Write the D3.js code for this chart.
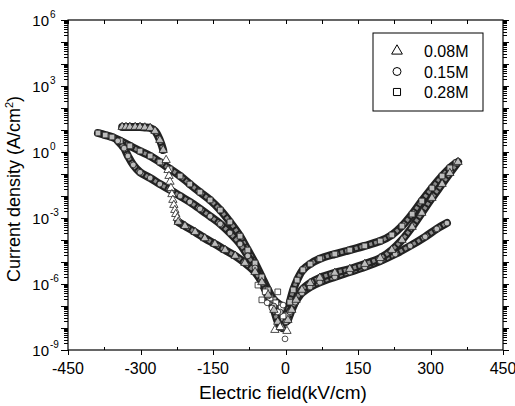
<!DOCTYPE html>
<html><head><meta charset="utf-8">
<script src="https://cdn.jsdelivr.net/npm/d3@7"></script>
<style>body{margin:0;background:#fff}</style>
</head><body><svg id="c" width="515" height="406"></svg>
<script>
// ---------- data (E in kV/cm, J in A/cm^2) ----------
const xTicks = [-450, -300, -150, 0, 150, 300, 450];
const xMinorTicks = [-375, -225, -75, 75, 225, 375];
const yLabelExps = [6, 3, 0, -3, -6, -9];
const seriesNames = ["0.08M", "0.15M", "0.28M"];

// 0.08M (triangles)
const m08NegTop = [[-338,13.7],[-330,13.7],[-322,13.7],[-311,13.7],[-301,13.7],[-291,13],[-280,12.3],[-270,9.0],[-260,3.5],[-253,1.23]];
const m08NegDrop = [[-247,0.43],[-243,0.15],[-241,0.081],[-239,0.044],[-237,0.023],[-235,0.012],[-233,6.6e-3],[-231,3.9e-3],[-229,2.3e-3],[-227,1.5e-3],[-224,1.0e-3]];
const m08NegLow = [[-222,6.6e-4],[-208,4.3e-4],[-187,2.3e-4],[-167,1.2e-4],[-146,6.6e-5],[-125,3.5e-5],[-104,1.9e-5],[-84,9.0e-6],[-63,3.5e-6],[-49,1.2e-6],[-36,3.2e-7],[-24,6.6e-8],[-16,1.9e-8],[-7,1.0e-8]];
const m08Pos = [[5,2.3e-8],[13,6.6e-8],[22,1.9e-7],[34,5.4e-7],[51,1.1e-6],[71,1.9e-6],[102,3.2e-6],[133,4.8e-6],[164,8.1e-6],[196,1.5e-5],[220,3.5e-5],[241,1.0e-4],[262,3.9e-4],[282,1.7e-3],[303,8.1e-3],[324,0.035],[340,0.11],[357,0.35]];
const m08Scatter = [[-22,8.1e-9],[-11,1.1e-8],[3,7.3e-9]];

// 0.15M (circles)
const m15Neg = [[-347,3.2],[-334,1.5],[-326,0.66],[-315,0.26],[-301,0.12],[-280,0.066],[-260,0.035],[-239,0.019],[-218,0.010],[-198,5.4e-3],[-177,2.6e-3],[-156,1.2e-3],[-135,5.4e-4],[-115,2.1e-4],[-94,6.6e-5],[-78,1.9e-5],[-63,5.4e-6],[-49,1.2e-6],[-36,2.8e-7],[-24,1.0e-7],[-11,5.4e-8]];
const m15Pos = [[1,1.9e-8],[9,5.4e-8],[20,1.5e-7],[34,3.9e-7],[51,7.3e-7],[71,1.2e-6],[102,2.1e-6],[133,3.5e-6],[164,5.9e-6],[196,1.1e-5],[227,2.3e-5],[258,5.4e-5],[289,1.4e-4],[313,3.2e-4],[334,5.9e-4]];
const m15Scatter = [[-38,1.4e-7],[-28,8.1e-8],[-16,5.4e-8],[-5,1.1e-7],[-1,3.2e-9]];

// 0.28M (squares)
const m28Neg = [[-388,7.3],[-373,5.9],[-359,4.8],[-342,3.2],[-322,1.9],[-301,1.1],[-280,0.66],[-260,0.35],[-239,0.17],[-218,0.081],[-198,0.035],[-177,0.015],[-156,6.6e-3],[-135,2.3e-3],[-115,6.6e-4],[-94,1.5e-4],[-78,3.5e-5],[-63,9.0e-6],[-49,2.1e-6],[-36,5.4e-7],[-24,1.9e-7],[-11,1.1e-7]];
const m28Pos = [[3,3.9e-8],[9,1.5e-7],[16,5.4e-7],[24,1.5e-6],[36,4.4e-6],[51,8.1e-6],[71,1.4e-5],[102,2.3e-5],[133,3.5e-5],[164,5.4e-5],[196,9.0e-5],[220,1.7e-4],[241,4.3e-4],[262,1.5e-3],[282,5.9e-3],[303,0.023],[324,0.081],[340,0.19],[353,0.32]];
const m28Scatter = [[-57,8.9e-7],[-49,1.9e-7],[-42,4.4e-7],[-32,2.3e-7],[-20,1.4e-7],[-16,4.4e-7],[-9,8.1e-8],[-5,3.5e-8]];

// ---------- drawing ----------
const svg = d3.select("#c");
const FONT = "'Liberation Sans', Arial, sans-serif";
const L = 68, R = 503, T = 20, B = 350;
const x = d3.scaleLinear().domain([-450, 450]).range([L, R]);
const y = d3.scaleLog().domain([1e-9, 1e6]).range([B, T]);

const symType = {"0.08M": d3.symbolTriangle, "0.15M": d3.symbolCircle, "0.28M": d3.symbolSquare};
const symSize = {"0.08M": 30, "0.15M": 26, "0.28M": 32};

const plot = svg.append("g");
const line = d3.line().x(d => x(d[0])).y(d => y(d[1])).curve(d3.curveCatmullRom);

function band(data) {
  plot.append("path").attr("d", line(data)).attr("fill", "none")
    .attr("stroke", "#222").attr("stroke-width", 8).attr("stroke-linecap", "round").attr("stroke-linejoin", "round");
  plot.append("path").attr("d", line(data)).attr("fill", "none")
    .attr("stroke", "#8c8c8c").attr("stroke-width", 3.5).attr("stroke-dasharray", "3 2");
}
function markers(data, name, fill) {
  plot.selectAll(null).data(data).enter().append("path")
    .attr("transform", d => `translate(${x(d[0])},${y(d[1])})`)
    .attr("d", d3.symbol().type(symType[name]).size(symSize[name]))
    .attr("fill", fill).attr("stroke", "#222").attr("stroke-width", 0.8);
}

[m28Neg, m15Neg, m08NegTop, m08NegLow, m28Pos, m15Pos, m08Pos].forEach(band);
const bandFill = "#bdbdbd", looseFill = "#fff";
markers(m28Neg, "0.28M", bandFill); markers(m28Pos, "0.28M", bandFill); markers(m28Scatter, "0.28M", looseFill);
markers(m15Neg, "0.15M", bandFill); markers(m15Pos, "0.15M", bandFill); markers(m15Scatter, "0.15M", looseFill);
markers(m08NegTop, "0.08M", bandFill); markers(m08NegDrop, "0.08M", looseFill); markers(m08NegLow, "0.08M", bandFill);
markers(m08Pos, "0.08M", bandFill); markers(m08Scatter, "0.08M", looseFill);

// ---------- axes ----------
const majorY = d3.range(-9, 7).map(k => Math.pow(10, k));
const minorY = [];
d3.range(-9, 6).forEach(k => { for (let m = 2; m <= 9; m++) minorY.push(m * Math.pow(10, k)); });

function styleAxis(g) {
  g.select(".domain").remove();
  g.selectAll("line").attr("stroke", "#000").attr("stroke-width", 1).attr("shape-rendering", "crispEdges");
  g.selectAll("text").remove();
}

svg.append("g").attr("transform", `translate(${L},0)`).call(d3.axisLeft(y).tickValues(majorY).tickSize(7)).call(styleAxis);
svg.append("g").attr("transform", `translate(${L},0)`).call(d3.axisLeft(y).tickValues(minorY).tickSize(4)).call(styleAxis);
svg.append("g").attr("transform", `translate(${R},0)`).call(d3.axisRight(y).tickValues(majorY).tickSize(6)).call(styleAxis);
svg.append("g").attr("transform", `translate(${R},0)`).call(d3.axisRight(y).tickValues(minorY).tickSize(4)).call(styleAxis);
svg.append("g").attr("transform", `translate(0,${B})`).call(d3.axisBottom(x).tickValues(xTicks).tickSize(5)).call(styleAxis);
svg.append("g").attr("transform", `translate(0,${B})`).call(d3.axisBottom(x).tickValues(xMinorTicks).tickSize(-3)).call(styleAxis);
svg.append("g").attr("transform", `translate(0,${T})`).call(d3.axisTop(x).tickValues(xMinorTicks.concat(xTicks)).tickSize(-4)).call(styleAxis);

svg.append("rect").attr("x", L).attr("y", T).attr("width", R - L).attr("height", B - T)
  .attr("fill", "none").attr("stroke", "#000").attr("stroke-width", 1.2);

// tick labels
svg.append("g").selectAll("text").data(xTicks).enter().append("text")
  .attr("x", d => x(d)).attr("y", B + 24).attr("text-anchor", "middle")
  .attr("font-family", FONT).attr("font-size", 16).text(d => d);

const yl = svg.append("g").selectAll("g").data(yLabelExps).enter().append("g");
yl.append("text").attr("x", 49).attr("y", d => y(Math.pow(10, d)) + 6).attr("text-anchor", "end")
  .attr("font-family", FONT).attr("font-size", 15).text("10");
yl.append("text").attr("x", 50).attr("y", d => y(Math.pow(10, d)) - 2).attr("text-anchor", "start")
  .attr("font-family", FONT).attr("font-size", 10).text(d => d);

// axis titles
svg.append("text").attr("x", 283).attr("y", 399).attr("text-anchor", "middle")
  .attr("font-family", FONT).attr("font-size", 19).text("Electric field(kV/cm)");
const yt = svg.append("text").attr("transform", `translate(20,${(T + B) / 2 + 4}) rotate(-90)`).attr("text-anchor", "middle")
  .attr("font-family", FONT).attr("font-size", 18);
yt.append("tspan").text("Current density (A/cm");
yt.append("tspan").attr("font-size", 11).attr("dy", -7).text("2");
yt.append("tspan").attr("dy", 7).text(")");

// legend
const lg = svg.append("g");
lg.append("rect").attr("x", 373).attr("y", 33).attr("width", 110).attr("height", 78)
  .attr("fill", "#fff").attr("stroke", "#000").attr("stroke-width", 1);
seriesNames.forEach((n, i) => {
  const cy = 51 + i * 20.5;
  lg.append("path").attr("transform", `translate(397,${cy})`)
    .attr("d", d3.symbol().type(symType[n]).size(50)).attr("fill", "none").attr("stroke", "#000").attr("stroke-width", 1);
  lg.append("text").attr("x", 424).attr("y", cy + 6).attr("font-family", FONT).attr("font-size", 16).text(n);
});
</script></body></html>
